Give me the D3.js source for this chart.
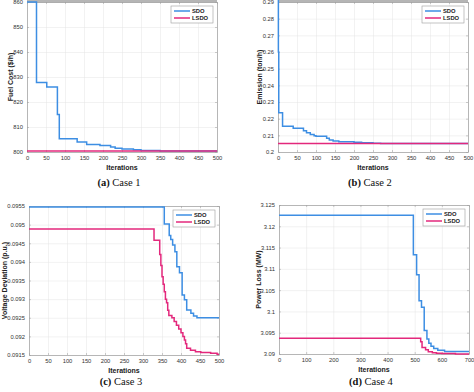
<!DOCTYPE html>
<html lang="en">
<head>
<meta charset="utf-8">
<title>SDO vs LSDO convergence</title>
<script src="https://cdn.jsdelivr.net/npm/d3@7"></script>
<style>
  body { margin: 0; background: #fff; }
  .tick text { font-family: "Liberation Sans", Arial, sans-serif; font-size: 5.8px; fill: #333; }
  .axttl { font-family: "Liberation Sans", Arial, sans-serif; font-size: 7px; font-weight: bold; fill: #222; }
  .cap { font-family: "Liberation Serif", "DejaVu Serif", serif; font-size: 10.5px; fill: #111; }
  .leg { font-family: "Liberation Sans", Arial, sans-serif; font-size: 5.8px; font-weight: bold; fill: #222; }
</style>
</head>
<body>
<script>
// colours
var sdoColor = "#3d8ee3";
var lsdoColor = "#e3287c";

// Case 1 - fuel cost
var c1_xTicks = [0,50,100,150,200,250,300,350,400,450,500];
var c1_yTicks = [800,810,820,830,840,850,860];
var c1_sdoIter = [0,25,52,80,85,132,157,192,220,232,250,280,300,350,500];
var c1_sdoVal  = [860,827.8,826,815,805.3,804,803,802.6,802,801.5,801.2,800.9,800.6,800.45,800.45];
var c1_lsdoIter = [0,500];
var c1_lsdoVal  = [800.4,800.4];

// Case 2 - emission
var c2_xTicks = [0,50,100,150,200,250,300,350,400,450,500];
var c2_yTicks = [0.2,0.21,0.22,0.23,0.24,0.25,0.26,0.27,0.28,0.29];
var c2_sdoIter = [0,1,2,12,40,67,75,85,95,100,128,135,145,160,200,220,250,270,500];
var c2_sdoVal  = [0.30,0.26,0.2235,0.2155,0.2142,0.2128,0.2115,0.2105,0.2097,0.2095,0.2082,0.2072,0.2066,0.2062,0.2058,0.2055,0.2052,0.2051,0.2051];
var c2_lsdoIter = [0,500];
var c2_lsdoVal  = [0.2051,0.2051];

// Case 3 - voltage deviation
var c3_xTicks = [0,50,100,150,200,250,300,350,400,450,500];
var c3_yTicks = [0.0915,0.092,0.0925,0.093,0.0935,0.094,0.0945,0.095,0.0955];
var c3_sdoIter = [0,356,369,373,378,384,389,396,403,409,415,426,433,442,500];
var c3_sdoVal  = [0.09547,0.09502,0.09471,0.0946,0.09445,0.09427,0.09387,0.09371,0.09311,0.09298,0.09271,0.09262,0.09255,0.0925,0.0925];
var c3_lsdoIter = [0,329,344,347,350,353,356,359,362,365,368,376,382,388,394,400,405,409,412,415,425,438,452,478,495,500];
var c3_lsdoVal  = [0.09488,0.09458,0.0942,0.0939,0.0936,0.0934,0.0932,0.093,0.0929,0.0927,0.09256,0.0925,0.0924,0.0923,0.0922,0.0921,0.092,0.0919,0.0918,0.09168,0.09163,0.09159,0.09157,0.09155,0.09152,0.09152];

// Case 4 - power loss
var c4_xTicks = [0,100,200,300,400,500,600,700];
var c4_yTicks = [3.09,3.095,3.1,3.105,3.11,3.115,3.12,3.125];
var c4_sdoIter = [0,495,507,516,525,535,545,552,560,570,585,610,700];
var c4_sdoVal  = [3.1226,3.1133,3.1086,3.1025,3.101,3.0955,3.0935,3.0925,3.0918,3.0913,3.0909,3.0906,3.0906];
var c4_lsdoIter = [0,522,527,540,550,565,580,600,650,700];
var c4_lsdoVal  = [3.0937,3.0929,3.0915,3.091,3.0905,3.0903,3.0902,3.0901,3.09,3.09];

var labels = ["SDO","LSDO"];

var w = 474, h = 392;
var svg = d3.select("body").append("svg").attr("width", w).attr("height", h);

var panels = [
  {tag:"(a)", cap:"Case 1", ylab:"Fuel Cost ($/h)", l:27, t:2, r:217, b:152, xmax:500,
   xt:c1_xTicks, yt:c1_yTicks, fmt:d3.format("d"), band:true, ylx:10, capy:186,
   sdo:[c1_sdoIter,c1_sdoVal], lsdo:[c1_lsdoIter,c1_lsdoVal]},
  {tag:"(b)", cap:"Case 2", ylab:"Emission (ton/h)", l:278, t:2, r:468, b:152, xmax:500,
   xt:c2_xTicks, yt:c2_yTicks, fmt:function(d){return String(+d.toFixed(2));}, band:true, ylx:259, capy:186,
   sdo:[c2_sdoIter,c2_sdoVal], lsdo:[c2_lsdoIter,c2_lsdoVal]},
  {tag:"(c)", cap:"Case 3", ylab:"Voltage Deviation (p.u.)", l:29, t:206, r:219, b:355, xmax:500,
   xt:c3_xTicks, yt:c3_yTicks, fmt:function(d){return String(+d.toFixed(4));}, band:false, ylx:4, capy:385,
   sdo:[c3_sdoIter,c3_sdoVal], lsdo:[c3_lsdoIter,c3_lsdoVal]},
  {tag:"(d)", cap:"Case 4", ylab:"Power Loss (MW)", l:279, t:205, r:469, b:354, xmax:700,
   xt:c4_xTicks, yt:c4_yTicks, fmt:function(d){return String(+d.toFixed(3));}, band:false, ylx:258, capy:385,
   sdo:[c4_sdoIter,c4_sdoVal], lsdo:[c4_lsdoIter,c4_lsdoVal]}
];

panels.forEach(function(p){
  var x = d3.scaleLinear().domain([0, p.xmax]).range([p.l, p.r]);
  var y = d3.scaleLinear().domain([p.yt[0], p.yt[p.yt.length-1]]).range([p.b, p.t]);
  var g = svg.append("g");

  // grid
  g.append("g").attr("transform","translate(0,"+p.b+")")
    .call(d3.axisBottom(x).tickValues(p.xt).tickSize(-(p.b-p.t)).tickFormat(""))
    .call(function(s){ s.select(".domain").remove(); s.selectAll("line").attr("stroke","#e4e4e4").attr("stroke-width",0.5); });
  g.append("g").attr("transform","translate("+p.l+",0)")
    .call(d3.axisLeft(y).tickValues(p.yt).tickSize(-(p.r-p.l)).tickFormat(""))
    .call(function(s){ s.select(".domain").remove(); s.selectAll("line").attr("stroke","#e4e4e4").attr("stroke-width",0.5); });

  if (p.band) {
    g.append("rect").attr("x", p.l).attr("y", 0).attr("width", p.r-p.l).attr("height", 2.5).attr("fill","#b5b5b5");
  }

  // axes, ticks inside like matlab
  g.append("g").attr("transform","translate(0,"+p.b+")")
    .call(d3.axisBottom(x).tickValues(p.xt).tickSizeInner(-2).tickSizeOuter(0).tickPadding(4).tickFormat(d3.format("d")));
  g.append("g").attr("transform","translate("+p.l+",0)")
    .call(d3.axisLeft(y).tickValues(p.yt).tickSizeInner(-2).tickSizeOuter(0).tickPadding(4).tickFormat(p.fmt));
  g.append("g").attr("transform","translate(0,"+p.t+")")
    .call(d3.axisTop(x).tickValues(p.xt).tickSizeInner(-2).tickSizeOuter(0).tickFormat(""));
  g.append("g").attr("transform","translate("+p.r+",0)")
    .call(d3.axisRight(y).tickValues(p.yt).tickSizeInner(-2).tickSizeOuter(0).tickFormat(""));
  g.selectAll(".domain").attr("stroke","#9c9c9c").attr("stroke-width",0.7);
  g.selectAll(".tick line").filter(function(){ return d3.select(this).attr("stroke") !== "#e4e4e4"; })
    .attr("stroke","#9c9c9c").attr("stroke-width",0.5);

  // lines
  var line = d3.line().x(function(d){return x(d[0]);}).y(function(d){return y(d[1]);}).curve(d3.curveStepAfter);
  [[p.sdo, sdoColor],[p.lsdo, lsdoColor]].forEach(function(s){
    var pts = s[0][0].map(function(v,i){ return [v, s[0][1][i]]; });
    g.append("path").datum(pts).attr("d", line).attr("fill","none")
      .attr("stroke", s[1]).attr("stroke-width", 1.5);
  });

  // labels
  var cx = (p.l + p.r) / 2;
  g.append("text").attr("class","axttl").attr("x", cx).attr("y", p.b + 17.5)
    .attr("text-anchor","middle").text("Iterations");
  g.append("text").attr("class","axttl").attr("text-anchor","middle")
    .attr("transform","translate("+(p.ylx+2.5)+","+((p.t+p.b)/2)+") rotate(-90)").text(p.ylab);
  var cap = g.append("text").attr("class","cap").attr("x", cx - 3).attr("y", p.capy).attr("text-anchor","middle");
  cap.append("tspan").attr("font-weight","bold").text(p.tag);
  cap.append("tspan").text(" " + p.cap);

  // legend
  var lw = 42, lh = 17;
  var lx = p.r - 4 - lw, ly = p.t + 4;
  var lg = g.append("g").attr("transform","translate("+lx+","+ly+")");
  lg.append("rect").attr("width", lw).attr("height", lh).attr("fill","#fff").attr("stroke","#9c9c9c").attr("stroke-width",0.6);
  [sdoColor, lsdoColor].forEach(function(c, i){
    var yy = 5 + i * 7;
    lg.append("line").attr("x1", 3).attr("x2", 19).attr("y1", yy).attr("y2", yy).attr("stroke", c).attr("stroke-width", 1.5);
    lg.append("text").attr("class","leg").attr("x", 21).attr("y", yy + 2).text(labels[i]);
  });
});
</script>
</body>
</html>
